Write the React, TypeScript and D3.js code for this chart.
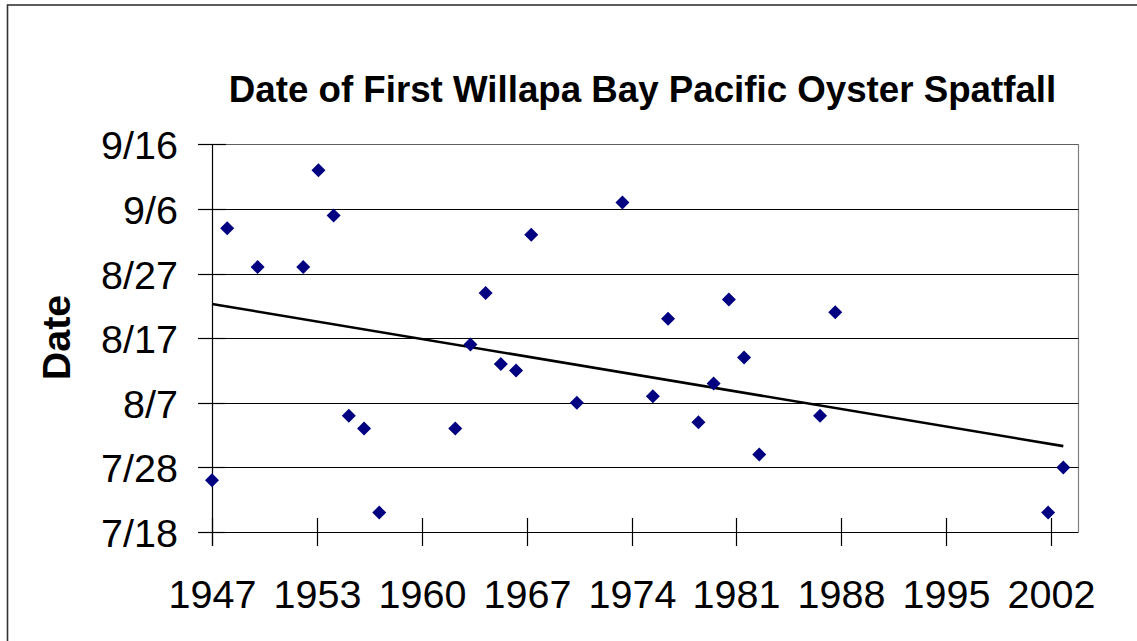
import React from "react";
import * as d3 from "d3";

const TITLE = "Date of First Willapa Bay Pacific Oyster Spatfall";
const Y_TITLE = "Date";

const years = [1947, 1948, 1950, 1953, 1954, 1955, 1956, 1957, 1958, 1963, 1964, 1965, 1966, 1967, 1968, 1971, 1974, 1976, 1977, 1979, 1980, 1981, 1982, 1983, 1987, 1988, 2002, 2003];
const spatDates = ["7/26", "9/3", "8/28", "8/28", "9/12", "9/5", "8/5", "8/3", "7/21", "8/3", "8/16", "8/24", "8/13", "8/12", "9/2", "8/7", "9/7", "8/8", "8/20", "8/4", "8/10", "8/23", "8/14", "7/30", "8/5", "8/21", "7/21", "7/28"];

// x axis is a date axis: starts 1/1/1947, major unit 2520 days, labels "yyyy"
const xTickLabels = ["1947", "1953", "1960", "1967", "1974", "1981", "1988", "1995", "2002"];
const X_TICK_DAYS = 2520;
const yTickLabels = ["7/18", "7/28", "8/7", "8/17", "8/27", "9/6", "9/16"];

// Linear trend line endpoints
const trendYears = [1947, 2003];
const trendDates = ["8/22 07:00", "7/31 07:00"];

const X_DOMAIN = [1947, 2004];
const Y_DOMAIN = ["7/18", "9/16"];

const parseMD = (s: string) => {
  const [md, hm] = s.split(" ");
  const [m, d] = md.split("/").map(Number);
  let h = 0;
  if (hm) h = Number(hm.split(":")[0]);
  return new Date(2000, m - 1, d, h);
};
const yearDate = (y: number) => new Date(y, 0, 1);

const FONT = "'Liberation Sans', Arial, sans-serif";

export default function App() {
  const W = 1137, H = 641;
  const left = 212, right = 1078.5, top = 144.3, bottom = 532;

  const x = d3.scaleTime().domain(X_DOMAIN.map(yearDate)).range([left, right]);
  const y = d3.scaleTime().domain(Y_DOMAIN.map(parseMD)).range([bottom, top]);

  const xTicks = xTickLabels.map((_, i) => d3.timeDay.offset(yearDate(X_DOMAIN[0]), i * X_TICK_DAYS));

  const points = years.map((yr, i) => ({ x: x(yearDate(yr)), y: y(parseMD(spatDates[i])) }));
  const trendLine = d3.line<[number, number]>()(
    trendYears.map((yr, i) => [x(yearDate(yr)), y(parseMD(trendDates[i]))] as [number, number])
  );
  const diamondPath = "M0,-7L7,0L0,7L-7,0Z";

  return (
    <svg width={W} height={H} style={{ position: "absolute", left: 0, top: 0, background: "#fff" }}>
      <rect x={0} y={0} width={W} height={H} fill="#fff" />
      {/* outer chart border */}
      <rect x={7.5} y={5} width={W + 20} height={H + 20} fill="none" stroke="#333" strokeWidth={1.6} />

      {/* title */}
      <text x={642.5} y={102} textAnchor="middle" fontFamily={FONT} fontWeight="bold" fontSize={36.7} fill="#000">
        {TITLE}
      </text>

      {/* plot area right border */}
      <line x1={right} x2={right} y1={top} y2={bottom} stroke="#808080" strokeWidth={1.2} />

      {/* gridlines + y ticks */}
      {yTickLabels.map((lab) => {
        const yy = Math.round(y(parseMD(lab))) + 0.5;
        return (
          <g key={lab}>
            <line x1={198} x2={right} y1={yy} y2={yy} stroke={lab === "9/16" ? "#606060" : "#000"} strokeWidth={1.2} />
            <line x1={198} x2={226} y1={yy} y2={yy} stroke="#000" strokeWidth={1.2} />
            <text x={178} y={yy} dy="0.36em" textAnchor="end" fontFamily={FONT} fontSize={39.5} fill="#000">
              {lab}
            </text>
          </g>
        );
      })}

      {/* y axis line */}
      <line x1={left + 0.5} x2={left + 0.5} y1={top} y2={546} stroke="#000" strokeWidth={1.2} />

      {/* x ticks */}
      {xTicks.map((v, i) => {
        const xx = Math.round(x(v)) + 0.5;
        return (
          <g key={i}>
            <line x1={xx} x2={xx} y1={518} y2={546} stroke="#000" strokeWidth={1.2} />
            <text x={xx} y={608} textAnchor="middle" fontFamily={FONT} fontSize={39.5} fill="#000">
              {xTickLabels[i]}
            </text>
          </g>
        );
      })}

      {/* y axis title */}
      <text
        transform={`translate(70, 337.5) rotate(-90)`}
        textAnchor="middle"
        fontFamily={FONT}
        fontWeight="bold"
        fontSize={39.5}
        fill="#000"
      >
        {Y_TITLE}
      </text>

      {/* trend line */}
      <path d={trendLine || ""} fill="none" stroke="#000" strokeWidth={2.6} />

      {/* markers */}
      {points.map((p, i) => (
        <path key={i} d={diamondPath} transform={`translate(${p.x},${p.y})`} fill="#000080" />
      ))}
    </svg>
  );
}
